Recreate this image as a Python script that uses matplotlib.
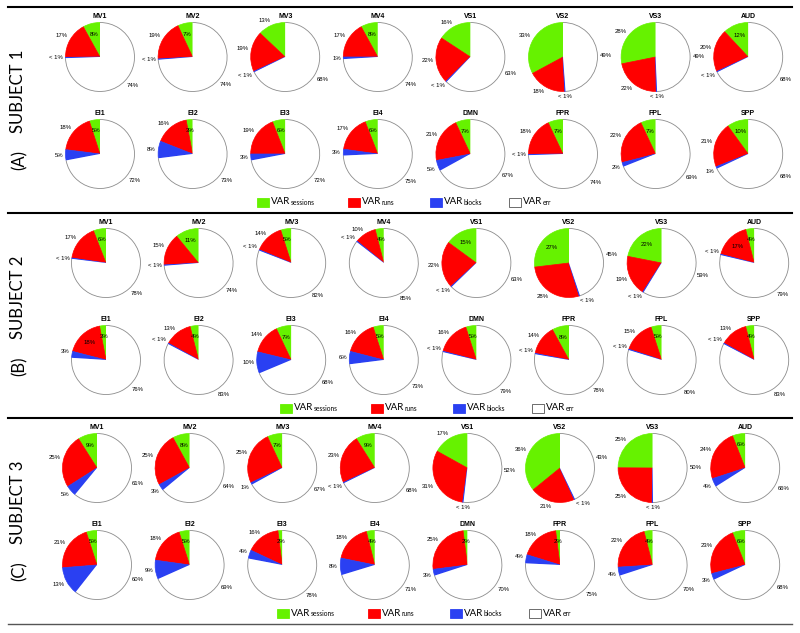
import matplotlib
matplotlib.use("Agg")
import matplotlib.pyplot as plt
from matplotlib.patches import Rectangle, Arc
import numpy as np

regions = ["MV1", "MV2", "MV3", "MV4", "VS1", "VS2", "VS3", "AUD",
           "EI1", "EI2", "EI3", "EI4", "DMN", "FPR", "FPL", "SPP"]
LT1 = 0.4  # shown as "< 1%"

# subject 1
s1_sessions = [8, 7, 13, 8, 16, 33, 28, 12, 5, 3, 6, 6, 7, 7, 7, 10]
s1_runs = [17, 19, 19, 17, 22, 18, 22, 20, 18, 16, 19, 17, 21, 18, 22, 21]
s1_blocks = [LT1, LT1, LT1, 1, LT1, LT1, LT1, LT1, 5, 8, 3, 3, 5, LT1, 2, 1]
s1_err = [74, 74, 68, 74, 63, 49, 49, 68, 72, 73, 72, 75, 67, 74, 69, 68]

# subject 2
s2_sessions = [6, 11, 5, 4, 15, 27, 22, 4, 3, 4, 7, 5, 5, 8, 5, 4]
s2_runs = [17, 15, 14, 10, 22, 28, 19, 17, 18, 13, 14, 16, 16, 14, 15, 13]
s2_blocks = [LT1, LT1, LT1, LT1, LT1, LT1, LT1, LT1, 3, LT1, 10, 6, LT1, LT1, LT1, LT1]
s2_err = [78, 74, 82, 85, 63, 45, 59, 79, 76, 83, 68, 73, 79, 78, 80, 83]

# subject 3
s3_sessions = [9, 8, 7, 9, 17, 36, 25, 6, 5, 5, 2, 4, 2, 2, 4, 6]
s3_runs = [25, 25, 25, 23, 31, 21, 25, 24, 21, 18, 16, 18, 25, 18, 22, 23]
s3_blocks = [5, 3, 1, LT1, LT1, LT1, LT1, 4, 13, 9, 4, 8, 3, 4, 4, 3]
s3_err = [61, 64, 67, 68, 52, 43, 50, 66, 60, 69, 78, 71, 70, 75, 70, 68]

subjects = [
    ("SUBJECT 1", "(A)", [s1_sessions, s1_runs, s1_blocks, s1_err]),
    ("SUBJECT 2", "(B)", [s2_sessions, s2_runs, s2_blocks, s2_err]),
    ("SUBJECT 3", "(C)", [s3_sessions, s3_runs, s3_blocks, s3_err]),
]
legend_names = ["sessions", "runs", "blocks", "err"]
colors = ["#66f200", "#ff0000", "#2a40f2", "#ffffff"]

# label placement quirks of the original figure
green_outside = {0: {"MV3", "VS1", "VS2", "VS3"}, 2: {"VS1", "VS2", "VS3"}}
red_inside = {1: {"AUD", "EI1"}}

W, H = 800, 633
fig = plt.figure(figsize=(W / 100, H / 100), dpi=100)
ax = fig.add_axes([0, 0, 1, 1])

tops = [7, 213, 418]
col_x0 = [100, 106, 97]
legend_x0 = [257, 280, 277]
R = 34.5
lbl_font = dict(family="Liberation Sans", fontsize=4.3)


def fmt(v):
    return "< 1%" if v < 1 else f"{v:.0f}%"


for p, (subj, tag, series) in enumerate(subjects):
    top = tops[p]
    for k, name in enumerate(regions):
        row, col = divmod(k, 8)
        cx = col_x0[p] + 92.6 * col
        cy = H - (top + 50 + 97 * row)
        vals = [s[k] for s in series]
        wedges, _ = ax.pie(vals, colors=colors, startangle=90, counterclock=True,
                           center=(cx, cy), radius=R, normalize=True,
                           wedgeprops=dict(linewidth=0.5))
        for w, c in zip(wedges, colors):
            w.set_edgecolor("none" if c == "#ffffff" else c)
        # thin grey rim only around the white (error) part
        we = wedges[-1]
        ax.add_patch(Arc((cx, cy), 2 * R, 2 * R, theta1=we.theta1, theta2=we.theta2,
                         color="#8c8c8c", lw=0.6))
        ax.text(cx, cy + R + 2.5, name, ha="center", va="bottom",
                family="Liberation Sans", fontsize=5, fontweight="bold")
        for j, (w, v) in enumerate(zip(wedges, vals)):
            mid = np.deg2rad((w.theta1 + w.theta2) / 2)
            c, s = np.cos(mid), np.sin(mid)
            inside = (j == 0 and name not in green_outside.get(p, set())) or \
                     (j == 1 and name in red_inside.get(p, set()))
            if inside:
                ax.text(cx + 0.68 * R * c, cy + 0.68 * R * s, fmt(v),
                        ha="center", va="center", **lbl_font)
            else:
                ha = "left" if c > 0.15 else ("right" if c < -0.15 else "center")
                va = "bottom" if s > 0.15 else ("top" if s < -0.15 else "center")
                ax.text(cx + 1.07 * R * c, cy + 1.07 * R * s, fmt(v),
                        ha=ha, va=va, **lbl_font)

    # panel labels
    ax.text(18, H - (top + 84), subj, rotation=90, ha="center", va="center",
            family="Lato", fontsize=12)
    ax.text(20, H - (top + 153), tag, rotation=90, ha="center", va="center",
            family="Lato", fontsize=12)

    # legend
    ly = H - (top + 195)
    for off, nm, c in zip([0, 91, 173, 252], legend_names, colors):
        x = legend_x0[p] + off
        ax.add_patch(Rectangle((x, ly - 4.5), 12, 9, facecolor=c,
                               edgecolor="#555555" if c == "#ffffff" else c, lw=0.6))
        t = ax.text(x + 14, ly, "VAR", ha="left", va="center",
                    family="Lato", fontsize=7)
        ax.annotate(nm, xy=(1, 0), xycoords=t, xytext=(0.3, 0.5),
                    textcoords="offset points", ha="left", va="bottom",
                    family="Lato", fontsize=4.8)

# separator lines
for i, y in enumerate([7, 213, 418, 624]):
    ax.axhline(H - y, xmin=0.01, xmax=0.99,
               color="black" if i < 3 else "#555555", lw=1.5 if i < 3 else 1.0)

ax.set_xlim(0, W)
ax.set_ylim(0, H)
ax.set_aspect("equal")
ax.axis("off")
fig.savefig("out.png", dpi=100)
